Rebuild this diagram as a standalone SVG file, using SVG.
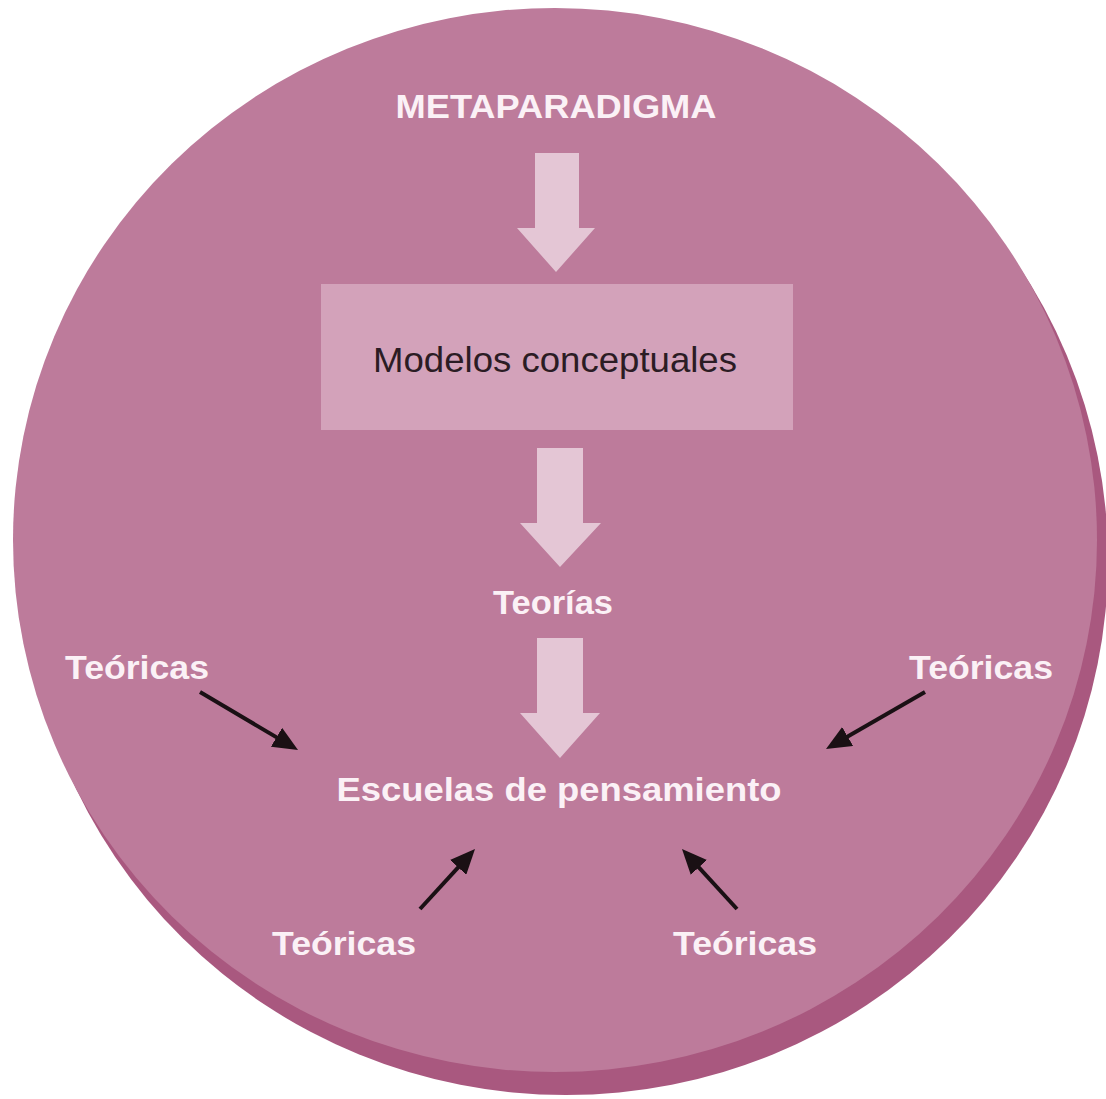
<svg xmlns="http://www.w3.org/2000/svg" width="1106" height="1099" viewBox="0 0 1106 1099">
  <style>
    .label { font-family: "Liberation Sans", Arial, sans-serif; font-weight: bold; fill: #FBF1F6; font-size: 34px; }
    .boxtext { font-family: "Liberation Sans", Arial, sans-serif; fill: #2B1C24; font-size: 35px; }
    .bigarrow { fill: #E4C6D5; }
    .pointer { stroke: #1A1014; stroke-width: 4; fill: none; }
  </style>
  <defs>
    <!-- tip sits 12px past the line end so the stroke stays inside the head -->
    <marker id="head" markerUnits="userSpaceOnUse" markerWidth="26" markerHeight="22" refX="13" refY="11" orient="auto">
      <path d="M0,0 L25,11 L0,22 Z" fill="#1A1014"/>
    </marker>
  </defs>

  <rect width="1106" height="1099" fill="#FFFFFF"/>

  <!-- disc with its darker rim showing below and to the right -->
  <g id="disc">
    <ellipse cx="566" cy="560" rx="542" ry="535" fill="#A9587F"/>
    <ellipse cx="555" cy="540" rx="542" ry="532" fill="#BD7B9B"/>
  </g>

  <g id="metaparadigma">
    <text class="label" x="556" y="118" text-anchor="middle" textLength="321" lengthAdjust="spacingAndGlyphs">METAPARADIGMA</text>
  </g>

  <g id="modelos">
    <rect x="321" y="284" width="472" height="146" fill="#D3A2BA"/>
    <text class="boxtext" x="555" y="372" text-anchor="middle" textLength="364" lengthAdjust="spacingAndGlyphs">Modelos conceptuales</text>
  </g>

  <g id="teorias">
    <text class="label" x="553" y="614" text-anchor="middle" textLength="120" lengthAdjust="spacingAndGlyphs">Teorías</text>
  </g>

  <g id="escuelas">
    <text class="label" x="559" y="801" text-anchor="middle" textLength="445" lengthAdjust="spacingAndGlyphs">Escuelas de pensamiento</text>
  </g>

  <g id="teoricas-ul">
    <text class="label" x="137" y="679" text-anchor="middle" textLength="144" lengthAdjust="spacingAndGlyphs">Teóricas</text>
  </g>
  <g id="teoricas-ur">
    <text class="label" x="981" y="679" text-anchor="middle" textLength="144" lengthAdjust="spacingAndGlyphs">Teóricas</text>
  </g>
  <g id="teoricas-ll">
    <text class="label" x="344" y="955" text-anchor="middle" textLength="144" lengthAdjust="spacingAndGlyphs">Teóricas</text>
  </g>
  <g id="teoricas-lr">
    <text class="label" x="745" y="955" text-anchor="middle" textLength="144" lengthAdjust="spacingAndGlyphs">Teóricas</text>
  </g>

  <g id="connectors">
    <!-- block arrows down the central column -->
    <path class="bigarrow" d="M535,153 H579 V228 H595 L556,272 L517,228 H535 Z"/>
    <path class="bigarrow" d="M537,448 H583 V523 H601 L560,567 L520,523 H537 Z"/>
    <path class="bigarrow" d="M537,638 H583 V713 H600 L560,758 L520,713 H537 Z"/>
    <!-- pointers from each group of theories -->
    <line class="pointer" x1="200" y1="692" x2="287.7" y2="743.9" marker-end="url(#head)"/>
    <line class="pointer" x1="925" y1="692" x2="836.4" y2="743" marker-end="url(#head)"/>
    <line class="pointer" x1="420" y1="909" x2="466.9" y2="857.8" marker-end="url(#head)"/>
    <line class="pointer" x1="737" y1="909" x2="690.1" y2="857.8" marker-end="url(#head)"/>
  </g>
</svg>
